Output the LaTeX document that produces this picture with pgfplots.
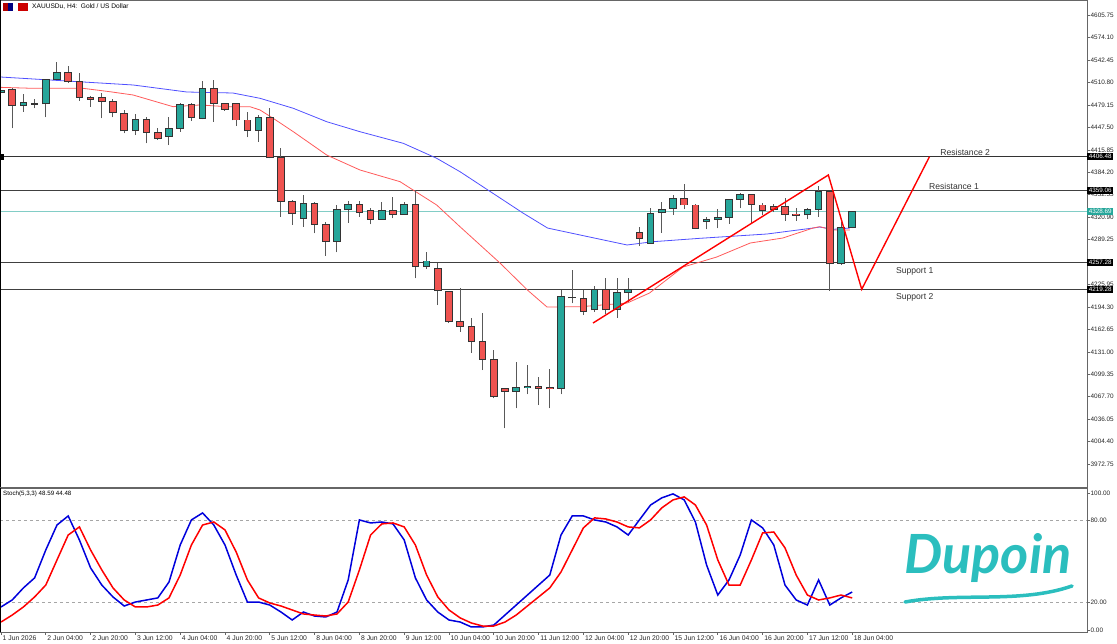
\documentclass[border=0pt]{standalone}
\usepackage{fontspec}
\setmainfont{Liberation Sans}
\usepackage{pgfplots}
\pgfplotsset{compat=1.18}
\usepackage{pgfplotstable}
\definecolor{cgreen}{RGB}{38,166,154}
\definecolor{cred}{RGB}{239,83,80}
\definecolor{maBlue}{RGB}{80,80,255}
\definecolor{maRed}{RGB}{255,90,90}
\definecolor{stBlue}{RGB}{0,0,220}
\definecolor{stRed}{RGB}{255,0,0}
\definecolor{curline}{RGB}{130,205,198}
\definecolor{curbox}{RGB}{38,166,154}
\definecolor{logo}{RGB}{43,190,190}

\pgfplotstableread{
i o h l c
0 4497.1 4503.1 4494.7 4500.3
1 4501.3 4502.7 4446.3 4478.2
2 4478.7 4494.3 4469.7 4482.0
3 4480.3 4487.2 4474.5 4480.9
4 4480.6 4515.8 4461.8 4515.4
5 4515.4 4540.3 4514.4 4525.3
6 4525.3 4534.2 4510.6 4512.0
7 4513.0 4523.9 4485.2 4490.0
8 4490.0 4491.9 4476.8 4487.2
9 4489.5 4495.7 4460.4 4484.8
10 4484.8 4487.2 4461.8 4468.3
11 4467.5 4472.1 4439.2 4442.5
12 4442.5 4466.5 4436.8 4459.0
13 4459.0 4461.8 4425.1 4440.7
14 4440.7 4446.3 4429.8 4431.6
15 4435.4 4462.7 4422.7 4446.3
16 4446.3 4482.4 4441.5 4479.2
17 4479.2 4482.4 4457.0 4461.8
18 4460.4 4513.4 4459.0 4502.7
19 4502.7 4514.4 4455.6 4481.6
20 4481.6 4482.4 4471.1 4473.1
21 4481.6 4482.4 4449.5 4458.0
22 4458.0 4468.9 4433.6 4442.9
23 4442.9 4465.1 4427.4 4461.2
24 4461.2 4474.5 4403.9 4404.8
25 4404.8 4418.9 4321.6 4342.7
26 4342.7 4345.1 4309.9 4325.8
27 4319.3 4352.2 4307.5 4340.5
28 4340.5 4342.7 4298.2 4310.9
29 4310.9 4314.5 4266.6 4287.3
30 4287.3 4338.1 4271.4 4332.0
31 4332.0 4343.7 4313.1 4339.1
32 4339.1 4343.7 4321.6 4327.8
33 4331.0 4333.4 4310.9 4317.9
34 4317.9 4341.9 4317.0 4330.6
35 4330.6 4349.8 4319.3 4325.0
36 4325.0 4341.9 4324.0 4339.5
37 4339.5 4359.2 4234.7 4251.0
38 4251.0 4272.2 4247.8 4259.1
39 4248.8 4255.8 4197.0 4217.2
40 4215.8 4216.8 4171.6 4173.4
41 4173.4 4220.6 4159.3 4166.4
42 4166.4 4178.2 4129.7 4145.2
43 4145.2 4185.3 4105.3 4120.4
44 4120.4 4133.5 4065.4 4067.6
45 4079.5 4079.9 4023.1 4075.7
46 4075.3 4117.0 4051.3 4080.9
47 4080.9 4112.4 4071.0 4082.7
48 4082.7 4095.0 4055.9 4079.9
49 4080.9 4106.3 4051.3 4078.9
50 4078.9 4218.2 4071.0 4209.7
51 4207.0 4246.4 4199.4 4207.6
52 4206.5 4218.2 4182.9 4188.5
53 4190.0 4223.8 4187.1 4218.2
54 4218.2 4235.1 4184.3 4190.0
55 4190.0 4234.7 4178.7 4214.4
56 4214.9 4235.1 4201.7 4218.2
57 4299.0 4307.5 4280.2 4291.1
58 4284.1 4333.9 4283.1 4326.4
59 4327.2 4342.7 4299.0 4332.0
60 4333.4 4352.2 4324.0 4347.5
61 4347.5 4367.7 4332.0 4338.1
62 4338.1 4339.5 4304.2 4305.2
63 4314.5 4321.6 4303.8 4317.9
64 4317.9 4332.0 4305.2 4320.7
65 4320.7 4346.6 4311.3 4346.1
66 4346.1 4355.4 4333.4 4353.6
67 4353.6 4354.3 4312.3 4339.5
68 4338.1 4341.3 4324.0 4330.0
69 4335.7 4339.5 4328.2 4332.0
70 4335.7 4347.5 4315.9 4325.0
71 4325.4 4333.4 4315.9 4323.6
72 4324.0 4334.3 4317.9 4332.0
73 4332.0 4364.9 4321.6 4356.9
74 4356.9 4357.1 4217.2 4255.8
75 4255.8 4314.5 4253.4 4306.6
76 4306.6 4330.0 4305.6 4328.7
}\candles

\pgfplotstableread{
i k d
0 16.8 5.8
1 21.9 10.9
2 30.7 16.8
3 38.0 24.1
4 58.4 32.8
5 76.6 51.1
6 83.2 69.3
7 65.7 75.2
8 45.3 58.4
9 32.8 43.8
10 24.1 30.7
11 17.5 21.9
12 20.4 16.8
13 21.9 16.8
14 23.4 18.2
15 35.0 23.4
16 62.0 40.1
17 80.3 62.0
18 85.4 76.6
19 76.6 78.8
20 62.0 73.0
21 40.1 56.9
22 20.4 36.5
23 20.4 23.4
24 18.2 19.7
25 13.1 17.5
26 7.3 14.6
27 13.1 11.7
28 10.2 10.9
29 9.5 10.2
30 13.1 11.7
31 36.5 20.4
32 80.3 43.8
33 78.1 69.3
34 78.8 77.4
35 77.4 78.1
36 65.7 75.2
37 38.0 62.0
38 21.9 40.1
39 13.1 24.1
40 7.3 14.6
41 5.8 8.8
42 2.2 5.1
43 2.2 2.9
44 3.6 2.9
45 10.9 5.8
46 18.2 10.9
47 25.5 17.5
48 32.8 24.1
49 40.1 30.7
50 69.3 42.3
51 83.2 58.4
52 83.2 74.5
53 80.3 81.8
54 78.8 81.0
55 75.2 78.8
56 69.3 75.2
57 80.3 74.5
58 91.2 80.3
59 96.4 89.1
60 99.3 94.9
61 94.9 97.1
62 78.8 91.2
63 47.4 76.6
64 25.5 51.1
65 36.5 32.8
66 54.7 32.8
67 80.3 51.1
68 74.5 70.8
69 62.0 71.5
70 32.8 59.9
71 21.9 40.1
72 18.2 25.5
73 36.5 21.9
74 18.2 23.4
75 23.4 25.5
76 27.7 23.4
}\stoch

\pgfplotsset{
  candle/.style={only marks, mark=*, mark size=0pt,
    mark options={draw opacity=0, fill opacity=0},
    error bars/.cd, y dir=plus, y explicit, error mark=none,
    error bar style={#1}},
}
\tikzset{
  pricebox/.style={anchor=west, fill=#1, text=white, font=\fontsize{6.3}{6.5}\selectfont, inner xsep=1.6pt, inner ysep=1.4pt},
}

\begin{document}
\begin{tikzpicture}[x=1pt,y=1pt]
\path[use as bounding box] (0pt,0pt) rectangle (1117pt,644pt);

% ---------------- main price panel ----------------
\begin{axis}[
  name=main,
  at={(0pt,157pt)}, anchor=south west, scale only axis,
  width=1087pt, height=487pt,
  xmin=-0.089, xmax=96.96, ymin=3940.3, ymax=4627.3,
  clip=false,
  axis line style={black!60, line width=0.8pt},
  xtick=\empty,
  ytick pos=right, yticklabel pos=right,
  ytick={3972.75,4004.40,4036.05,4067.70,4099.35,4131.00,4162.65,4194.30,4225.95,4257.60,4289.25,4320.90,4352.55,4384.20,4415.85,4447.50,4479.15,4510.80,4542.45,4574.10,4605.75},
  yticklabels={3972.75,4004.40,4036.05,4067.70,4099.35,4131.00,4162.65,4194.30,4225.95,,4289.25,4320.90,4352.55,4384.20,4415.85,4447.50,4479.15,4510.80,4542.45,4574.10,4605.75},
  tick align=outside, major tick length=3pt,
  tick style={black!60, line width=0.6pt},
  yticklabel style={font=\fontsize{6.4}{6.5}\selectfont, text=black!85, inner sep=0.5pt},
]
% horizontal levels
\addplot [black!80, line width=0.8pt] coordinates {(-0.089,4406.48) (96.96,4406.48)};
\addplot [black!75, line width=0.8pt] coordinates {(-0.089,4359.06) (96.96,4359.06)};
\addplot [curline, line width=0.9pt] coordinates {(-0.089,4328.69) (96.96,4328.69)};
\addplot [black!75, line width=0.8pt] coordinates {(-0.089,4257.28) (96.96,4257.28)};
\addplot [black!75, line width=0.8pt] coordinates {(-0.089,4219.28) (96.96,4219.28)};

% moving averages
\addplot [maBlue, line width=0.8pt] coordinates {
(-0.09,4518.7) (5.89,4513.0) (11.79,4507.4) (16.6,4497.5) (20.7,4496.1) (23.13,4488.6)
(26.1,4474.5) (29.08,4455.6) (32.05,4441.5) (35.92,4425.1) (38.9,4404.0) (40.98,4385.1)
(43.7,4356.9) (46.6,4326.8) (48.8,4305.6) (51.7,4295.8) (55.9,4281.7) (58.2,4286.3)
(62.4,4291.1) (68.4,4297.2) (72.5,4305.6) (73.1,4307.0) (74.3,4303.8) (75.8,4305.6)};
\addplot [maRed, line width=0.8pt] coordinates {
(-0.09,4504.1) (2.86,4502.7) (7.32,4502.7) (9.73,4497.9) (11.79,4493.3) (15.36,4476.8)
(17.77,4479.2) (20.18,4476.8) (22.23,4476.8) (23.13,4472.1) (24.3,4460.4) (26.1,4441.5)
(29.08,4408.6) (32.05,4387.5) (35.63,4371.0) (36.8,4359.2) (38.9,4338.1) (40.98,4307.5)
(44.55,4256.3) (47.0,4218.2) (48.75,4194.2) (51.7,4194.6) (55.9,4199.8) (57.9,4213.9)
(60.9,4250.6) (63.9,4264.7) (66.9,4284.5) (69.8,4291.5) (72.5,4305.6) (73.1,4307.5)
(74.3,4302.8) (75.8,4302.8)};

% wicks
\addplot [candle={line width=1pt, black!65}]
  table [x=i, y=l, y error expr=\thisrow{h}-\thisrow{l}] {\candles};
% body outlines
\addplot [candle={line width=7.6pt, black!80}]
  table [x=i, y expr={min(\thisrow{o},\thisrow{c})-0.7}, y error expr={abs(\thisrow{c}-\thisrow{o})+1.4}] {\candles};
% green bodies
\addplot [restrict expr to domain={\thisrow{c}-\thisrow{o}}{0:10000}, candle={line width=5.6pt, cgreen}]
  table [x=i, y expr={min(\thisrow{o},\thisrow{c})+0.7}, y error expr={max(abs(\thisrow{c}-\thisrow{o})-1.4,0)}] {\candles};
% red bodies
\addplot [restrict expr to domain={\thisrow{o}-\thisrow{c}}{0.0001:10000}, candle={line width=5.6pt, cred}]
  table [x=i, y expr={min(\thisrow{o},\thisrow{c})+0.7}, y error expr={max(abs(\thisrow{c}-\thisrow{o})-1.4,0)}] {\candles};

% projection zigzag
\addplot [stRed, line width=1.4pt] coordinates {(52.86,4171.6) (73.87,4380.4) (76.85,4219.2) (82.9,4406.2)};

% labels
\node [anchor=west, font=\fontsize{8.6}{9}\selectfont, text=black!80, inner sep=0pt] at (axis cs:83.85,4412.0) {Resistance 2};
\node [anchor=west, font=\fontsize{8.6}{9}\selectfont, text=black!80, inner sep=0pt] at (axis cs:82.85,4364.8) {Resistance 1};
\node [anchor=west, font=\fontsize{8.6}{9}\selectfont, text=black!80, inner sep=0pt] at (axis cs:79.9,4245.0) {Support 1};
\node [anchor=west, font=\fontsize{8.6}{9}\selectfont, text=black!80, inner sep=0pt] at (axis cs:79.9,4208.0) {Support 2};

% price boxes
\node [pricebox=black] at (axis cs:96.96,4406.48) {4406.48};
\node [pricebox=black] at (axis cs:96.96,4359.06) {4359.06};
\node [pricebox=curbox] at (axis cs:96.96,4328.69) {4328.69};
\node [pricebox=black] at (axis cs:96.96,4257.28) {4257.28};
\node [pricebox=black] at (axis cs:96.96,4219.28) {4219.28};
\end{axis}

% ---------------- stochastic panel ----------------
\begin{axis}[
  name=stoch,
  at={(0pt,12pt)}, anchor=south west, scale only axis,
  width=1087pt, height=144pt,
  xmin=-0.089, xmax=96.96, ymin=-1.46, ymax=103.6,
  clip=true,
  axis line style={black!60, line width=0.8pt},
  xtick={0,4,...,76},
  xticklabels={1 Jun 2026,2 Jun 04:00,2 Jun 20:00,3 Jun 12:00,4 Jun 04:00,4 Jun 20:00,5 Jun 12:00,8 Jun 04:00,8 Jun 20:00,9 Jun 12:00,10 Jun 04:00,10 Jun 20:00,11 Jun 12:00,12 Jun 04:00,12 Jun 20:00,15 Jun 12:00,16 Jun 04:00,16 Jun 20:00,17 Jun 12:00,18 Jun 04:00},
  xtick pos=bottom,
  xticklabel style={font=\fontsize{6.8}{7}\selectfont, text=black!85, anchor=north west, inner sep=0pt, xshift=1.5pt, yshift=-1pt},
  ytick pos=right, yticklabel pos=right,
  ytick={0,20,80,100}, yticklabels={0.00,20.00,80.00,100.00},
  yticklabel style={font=\fontsize{6.4}{6.5}\selectfont, text=black!85, inner sep=0.5pt},
  tick align=outside, major tick length=3pt,
  tick style={black!60, line width=0.6pt},
]
\addplot [black!35, dashed, line width=0.5pt] coordinates {(-0.089,80) (96.96,80)};
\addplot [black!35, dashed, line width=0.5pt] coordinates {(-0.089,20) (96.96,20)};
\addplot [stBlue, line width=1.5pt] table [x=i, y=k] {\stoch};
\addplot [stRed, line width=1.5pt] table [x=i, y=d] {\stoch};
\end{axis}

% frame details
\draw [black, line width=1pt] (0.5pt,157pt) -- (0.5pt,644pt);
\draw [black, line width=1pt] (0.5pt,12pt) -- (0.5pt,156pt);
\fill [black] (0pt,484pt) rectangle (4pt,490pt);
\draw [black!60, line width=1.2pt] (0pt,156.5pt) -- (1087pt,156.5pt);

% title
\fill [red!70!black] (3pt,633pt) rectangle (8pt,641pt);
\fill [blue!50!black] (8pt,633pt) rectangle (13pt,641pt);
\fill [red!80!black] (18pt,633pt) rectangle (28pt,641pt);
\node [anchor=west, font=\fontsize{6.6}{7}\selectfont, inner sep=0pt] at (32pt,637pt) {XAUUSDu, H4:\ \ Gold / US Dollar};
\node [anchor=west, font=\fontsize{6.2}{6.5}\selectfont, inner sep=0pt] at (3pt,150pt) {Stoch(5,3,3) 48.59 44.48};

% logo
\node [anchor=center, text=logo, inner sep=0pt] at (988pt,86pt) {\fontspec{Lato}\fontsize{54}{56}\selectfont\bfseries\itshape Dupoin};
\draw [logo, line width=3.5pt, line cap=round] (905pt,42pt) .. controls (960pt,52pt) and (1020pt,40pt) .. (1072pt,58pt);
\end{tikzpicture}
\end{document}
